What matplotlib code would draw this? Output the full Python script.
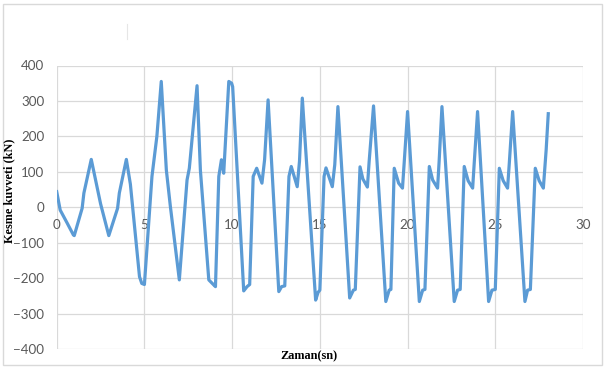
import matplotlib
matplotlib.use("Agg")
import matplotlib.pyplot as plt
from matplotlib.patches import Rectangle
from matplotlib.lines import Line2D

# Time (s) and shear force (kN)
zaman = [0.0, 0.2, 0.6, 0.95, 1.0, 1.45, 1.55, 1.97, 2.5, 2.97, 3.47, 3.57, 3.97,
         4.2, 4.72, 4.85, 5.0, 5.43, 5.71, 5.96, 6.25, 6.48, 6.99, 7.43, 7.56, 8.0,
         8.19, 8.67, 8.95, 9.05, 9.24, 9.39, 9.52, 9.81, 9.97, 10.03,
         10.66, 10.85, 11.0, 11.2, 11.4, 11.7, 11.85, 12.05,
         12.66, 12.82, 13.0, 13.24, 13.37, 13.71, 13.84, 14.0,
         14.76, 14.9, 15.0, 15.24, 15.35, 15.71, 15.85, 16.03,
         16.7, 16.91, 17.02, 17.29, 17.45, 17.71, 17.81, 18.06,
         18.76, 18.95, 19.05, 19.24, 19.49, 19.71, 19.8, 20.0,
         20.67, 20.86, 20.99, 21.24, 21.43, 21.71, 21.8, 21.96,
         22.66, 22.85, 23.0, 23.23, 23.45, 23.71, 23.8, 23.99,
         24.62, 24.81, 25.0, 25.23, 25.45, 25.7, 25.8, 25.99,
         26.69, 26.84, 27.0, 27.28, 27.5, 27.74, 27.9, 28.02]
kesme = [44, -8, -45, -78, -80, -3, 40, 135, 10, -80, -3, 40, 135,
         65, -196, -215, -218, 87, 200, 355, 105, 2, -205, 77, 110, 343,
         105, -205, -219, -224, 87, 134, 96, 355, 350, 340,
         -236, -224, -218, 87, 110, 68, 134, 303,
         -238, -224, -222, 87, 115, 58, 130, 308,
         -262, -240, -234, 87, 111, 58, 120, 284,
         -256, -234, -232, 114, 80, 57, 129, 286,
         -266, -234, -232, 110, 68, 54, 120, 270,
         -266, -234, -232, 115, 77, 54, 130, 284,
         -266, -234, -232, 115, 75, 54, 125, 270,
         -266, -234, -232, 110, 75, 54, 125, 270,
         -266, -234, -232, 110, 75, 54, 162, 264]

x_ticks = [0, 5, 10, 15, 20, 25, 30]
y_ticks = [-400, -300, -200, -100, 0, 100, 200, 300, 400]

W, H = 605, 367
fig = plt.figure(figsize=(W / 100, H / 100), dpi=100)
fig.patch.set_facecolor("white")

# outer chart border
fig.patches.append(Rectangle((3 / W, 2 / H), 599 / W, 361 / H, transform=fig.transFigure,
                             fill=False, edgecolor="#d9d9d9", linewidth=1.0))
# small artifact line in the reference
fig.lines.append(Line2D([126.7 / W, 126.7 / W], [1 - 24 / H, 1 - 39 / H],
                        transform=fig.transFigure, color="#e6e6e6", linewidth=0.8))

left, right = 56.7, 583.0
top, bottom = 65.5, 349.0
ax = fig.add_axes([left / W, 1 - bottom / H, (right - left) / W, (bottom - top) / H])
ax.set_xlim(0, 30)
ax.set_ylim(-400, 400)
ax.set_xticks(x_ticks)
ax.set_yticks(y_ticks)
ax.grid(True, color="#d9d9d9", linewidth=0.9)
ax.set_axisbelow(True)
for s in ax.spines.values():
    s.set_visible(False)
ax.spines["bottom"].set_position(("data", 0))

ax.plot(zaman, kesme, color="#5B9BD5", linewidth=2.3, solid_joinstyle="round")

ax.tick_params(axis="both", length=0, labelcolor="#595959", labelsize=9.6)
ax.tick_params(axis="x", pad=8.5)
ax.tick_params(axis="y", pad=9)
for lab in ax.get_xticklabels() + ax.get_yticklabels():
    lab.set_fontfamily("Lato")

fig.text(9.5 / W, 1 - 191 / H, "Kesme kuvveti (kN)", rotation=90, ha="center", va="center",
         fontsize=8.8, fontweight="bold", family="Liberation Serif", color="black")
fig.text(309 / W, 1 - 356 / H, "Zaman(sn)", ha="center", va="center",
         fontsize=8.8, fontweight="bold", family="Liberation Serif", color="black")

fig.savefig("out.png", dpi=100)
